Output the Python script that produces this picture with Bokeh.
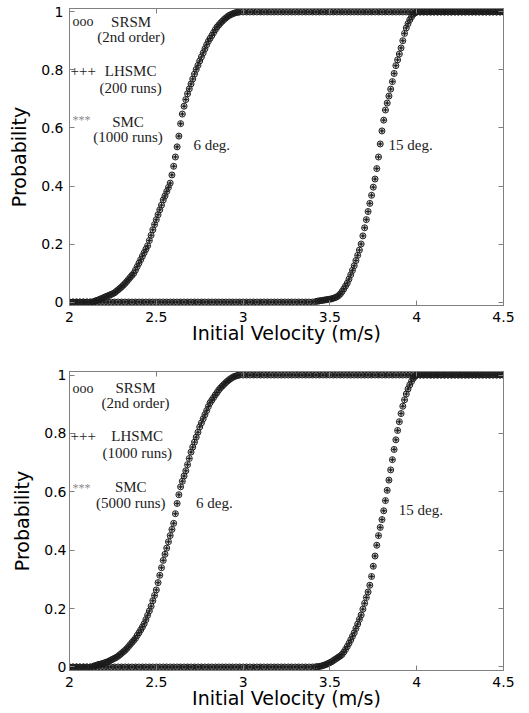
from bokeh.plotting import figure
from bokeh.layouts import column
from bokeh.models import (Label, FixedTicker, LinearAxis, Range1d, ColumnDataSource,
                          NumeralTickFormatter)
from bokeh.embed import file_html
from bokeh.resources import INLINE

# ---------------- data ----------------
X_TICKS = [2, 2.5, 3, 3.5, 4, 4.5]
Y_TICKS = [0, 0.2, 0.4, 0.6, 0.8, 1]

# 6 deg curve: flat part at 0, transition, flat part at 1
VEL_FLOOR_6 = [2.00, 2.02, 2.04, 2.06, 2.08, 2.10, 2.12]
VEL_6 = [2.14, 2.15, 2.16, 2.17, 2.18, 2.19, 2.20, 2.21, 2.22, 2.23,
         2.24, 2.25, 2.26, 2.27, 2.28, 2.29, 2.30, 2.31, 2.32, 2.33,
         2.34, 2.35, 2.36, 2.37, 2.38, 2.39, 2.40, 2.41, 2.42, 2.43,
         2.44, 2.45, 2.46, 2.47, 2.48, 2.49, 2.50, 2.51, 2.52, 2.53,
         2.54, 2.55, 2.56, 2.57, 2.58, 2.59, 2.60, 2.61, 2.62, 2.63,
         2.64, 2.65, 2.66, 2.67, 2.68, 2.69, 2.70, 2.71, 2.72, 2.73,
         2.74, 2.75, 2.76, 2.77, 2.78, 2.79, 2.80, 2.81, 2.82, 2.83,
         2.84, 2.85, 2.86, 2.87, 2.88, 2.89, 2.90, 2.91, 2.92, 2.93,
         2.94, 2.95, 2.96, 2.97, 2.98]
VEL_CEIL_6 = [3.00, 3.02, 3.04, 3.06, 3.08, 3.10, 3.12, 3.14, 3.16, 3.18,
              3.20, 3.22, 3.24, 3.26, 3.28, 3.30, 3.32, 3.34, 3.36, 3.38,
              3.40, 3.42, 3.44, 3.46, 3.48, 3.50, 3.52, 3.54, 3.56, 3.58,
              3.60, 3.62, 3.64, 3.66, 3.68, 3.70, 3.72, 3.74, 3.76, 3.78,
              3.80, 3.82, 3.84, 3.86, 3.88, 3.90, 3.92, 3.94, 3.96, 3.98,
              4.00, 4.02, 4.04, 4.06, 4.08, 4.10, 4.12, 4.14, 4.16, 4.18,
              4.20, 4.22, 4.24, 4.26, 4.28, 4.30, 4.32, 4.34, 4.36, 4.38,
              4.40, 4.42, 4.44, 4.46, 4.48, 4.50]

PROB_6_TOP = [0.002, 0.004, 0.006, 0.008, 0.011, 0.013, 0.016, 0.019, 0.021, 0.024,
              0.026, 0.029, 0.032, 0.037, 0.042, 0.047, 0.052, 0.058, 0.064, 0.071,
              0.078, 0.085, 0.092, 0.099, 0.110, 0.122, 0.134, 0.146, 0.158, 0.170,
              0.182, 0.194, 0.212, 0.230, 0.249, 0.267, 0.284, 0.301, 0.318, 0.334,
              0.352, 0.366, 0.381, 0.395, 0.410, 0.438, 0.468, 0.500, 0.535, 0.572,
              0.615, 0.648, 0.675, 0.698, 0.718, 0.735, 0.752, 0.769, 0.786, 0.802,
              0.816, 0.831, 0.845, 0.859, 0.873, 0.887, 0.899, 0.909, 0.919, 0.929,
              0.939, 0.948, 0.955, 0.962, 0.968, 0.974, 0.979, 0.984, 0.988, 0.991,
              0.994, 0.996, 0.998, 0.999, 1.000]
PROB_6_BOT = [0.003, 0.005, 0.007, 0.009, 0.010, 0.012, 0.014, 0.016, 0.018, 0.021,
              0.024, 0.027, 0.030, 0.033, 0.037, 0.042, 0.047, 0.052, 0.057, 0.063,
              0.070, 0.077, 0.084, 0.091, 0.098, 0.108, 0.117, 0.127, 0.137, 0.148,
              0.162, 0.177, 0.192, 0.208, 0.227, 0.245, 0.264, 0.289, 0.314, 0.340,
              0.365, 0.386, 0.407, 0.429, 0.450, 0.471, 0.492, 0.525, 0.560, 0.590,
              0.617, 0.636, 0.654, 0.672, 0.693, 0.714, 0.736, 0.753, 0.770, 0.787,
              0.804, 0.822, 0.836, 0.850, 0.864, 0.878, 0.892, 0.905, 0.914, 0.923,
              0.932, 0.940, 0.949, 0.956, 0.962, 0.968, 0.974, 0.979, 0.984, 0.988,
              0.992, 0.995, 0.997, 0.999, 1.000]

# 15 deg curve
VEL_FLOOR_15 = [2.00, 2.02, 2.04, 2.06, 2.08, 2.10, 2.12, 2.14, 2.16, 2.18,
                2.20, 2.22, 2.24, 2.26, 2.28, 2.30, 2.32, 2.34, 2.36, 2.38,
                2.40, 2.42, 2.44, 2.46, 2.48, 2.50, 2.52, 2.54, 2.56, 2.58,
                2.60, 2.62, 2.64, 2.66, 2.68, 2.70, 2.72, 2.74, 2.76, 2.78,
                2.80, 2.82, 2.84, 2.86, 2.88, 2.90, 2.92, 2.94, 2.96, 2.98,
                3.00, 3.02, 3.04, 3.06, 3.08, 3.10, 3.12, 3.14, 3.16, 3.18,
                3.20, 3.22, 3.24, 3.26, 3.28, 3.30, 3.32, 3.34, 3.36, 3.38,
                3.40]
VEL_15 = [3.42, 3.43, 3.44, 3.45, 3.46, 3.47, 3.48, 3.49, 3.50, 3.51,
          3.52, 3.53, 3.54, 3.55, 3.56, 3.57, 3.58, 3.59, 3.60, 3.61,
          3.62, 3.63, 3.64, 3.65, 3.66, 3.67, 3.68, 3.69, 3.70, 3.71,
          3.72, 3.73, 3.74, 3.75, 3.76, 3.77, 3.78, 3.79, 3.80, 3.81,
          3.82, 3.83, 3.84, 3.85, 3.86, 3.87, 3.88, 3.89, 3.90, 3.91,
          3.92, 3.93, 3.94, 3.95, 3.96, 3.97, 3.98, 3.99, 4.00]
VEL_CEIL_15 = [4.02, 4.04, 4.06, 4.08, 4.10, 4.12, 4.14, 4.16, 4.18, 4.20,
               4.22, 4.24, 4.26, 4.28, 4.30, 4.32, 4.34, 4.36, 4.38, 4.40,
               4.42, 4.44, 4.46, 4.48, 4.50]

PROB_15_TOP = [0.002, 0.003, 0.004, 0.005, 0.006, 0.007, 0.008, 0.009, 0.010, 0.011,
               0.013, 0.015, 0.018, 0.022, 0.028, 0.036, 0.045, 0.055, 0.065, 0.079,
               0.094, 0.109, 0.125, 0.143, 0.161, 0.179, 0.200, 0.228, 0.256, 0.284,
               0.312, 0.340, 0.368, 0.396, 0.424, 0.460, 0.500, 0.545, 0.590, 0.627,
               0.662, 0.686, 0.710, 0.734, 0.760, 0.788, 0.815, 0.835, 0.855, 0.876,
               0.901, 0.926, 0.945, 0.960, 0.973, 0.983, 0.992, 0.997, 1.000]
PROB_15_BOT = [0.001, 0.001, 0.002, 0.003, 0.005, 0.007, 0.009, 0.012, 0.015, 0.018,
               0.022, 0.026, 0.030, 0.034, 0.038, 0.043, 0.051, 0.060, 0.070, 0.081,
               0.093, 0.105, 0.117, 0.132, 0.147, 0.163, 0.178, 0.198, 0.218, 0.238,
               0.257, 0.280, 0.310, 0.345, 0.380, 0.417, 0.450, 0.478, 0.505, 0.535,
               0.570, 0.605, 0.640, 0.675, 0.710, 0.745, 0.778, 0.810, 0.840, 0.868,
               0.893, 0.915, 0.935, 0.952, 0.966, 0.978, 0.988, 0.995, 1.000]

LEGEND_TOP = ["SRSM", "(2nd order)", "LHSMC", "(200 runs)", "SMC", "(1000 runs)"]
LEGEND_BOT = ["SRSM", "(2nd order)", "LHSMC", "(1000 runs)", "SMC", "(5000 runs)"]
CURVE_LABELS = ["6 deg.", "15 deg."]

GRAY = "#808080"
INK = "#1c1c1c"
SANS = "DejaVu Sans"
SERIF = "Liberation Serif"


def curve(floor, mid, ceil, prob):
    return (floor + mid + ceil, [0.0] * len(floor) + prob + [1.0] * len(ceil))


def make_panel(height, left, right, top, bottom, curves, legend, pos, deg_pos, lab_stand):
    p = figure(width=529, height=height, x_range=Range1d(2, 4.5),
               y_range=Range1d(-0.012, 1.012), output_backend="svg",
               toolbar_location=None, min_border_left=left, min_border_right=right,
               min_border_top=top, min_border_bottom=bottom)
    p.xgrid.grid_line_color = None
    p.ygrid.grid_line_color = None
    p.outline_line_color = GRAY
    p.background_fill_color = "white"
    p.border_fill_color = "white"

    for vel, prob in curves:
        src = ColumnDataSource(dict(x=vel, y=prob))
        p.scatter("x", "y", source=src, marker="circle", size=6, fill_color=None,
                  line_color=INK, line_width=1)
        p.scatter("x", "y", source=src, marker="cross", size=5, line_color=INK,
                  line_width=0.9)
        p.scatter("x", "y", source=src, marker="asterisk", size=4, line_color=INK,
                  line_width=0.7)

    for ax, ticks in ((p.xaxis[0], X_TICKS), (p.yaxis[0], Y_TICKS)):
        ax.ticker = FixedTicker(ticks=ticks)
        ax.formatter = NumeralTickFormatter(format="0.[0]")
        ax.axis_line_color = GRAY
        ax.major_tick_line_color = GRAY
        ax.major_tick_in = 5
        ax.major_tick_out = 0
        ax.minor_tick_line_color = None
        ax.major_label_text_font = SANS
        ax.major_label_text_font_size = "14px"
        ax.major_label_text_color = "black"
        ax.axis_label_text_font = SANS
        ax.axis_label_text_font_size = "19px"
        ax.axis_label_text_font_style = "normal"
        ax.axis_label_text_color = "black"
    p.xaxis[0].axis_label = "Initial Velocity (m/s)"
    p.yaxis[0].axis_label = "Probability"
    p.xaxis[0].major_label_standoff = 6
    p.xaxis[0].axis_label_standoff = -3
    p.yaxis[0].major_label_standoff = lab_stand
    p.yaxis[0].axis_label_standoff = 8

    for loc, ticks in (("above", X_TICKS), ("right", Y_TICKS)):
        ax = LinearAxis(ticker=FixedTicker(ticks=ticks), major_label_text_font_size="1px",
                        major_label_text_color=None,
                        major_label_standoff=0, major_tick_in=5, major_tick_out=0,
                        axis_line_color=GRAY, major_tick_line_color=GRAY,
                        minor_tick_line_color=None)
        p.add_layout(ax, loc)

    # legend-like texts
    (yo_s, yo_l, yo_a, xs, ys, xl, yl, xm, ym) = pos
    p.add_layout(Label(x=2.017, y=yo_s, text="ooo", text_font=SERIF, text_font_size="14px",
                       text_baseline="middle", text_color=INK))
    p.add_layout(Label(x=2.006, y=yo_l, text="+++", text_font=SERIF, text_font_size="15px",
                       text_baseline="middle", text_color=INK))
    p.add_layout(Label(x=2.017, y=yo_a, text="***", text_font=SERIF, text_font_size="12px",
                       text_baseline="middle", text_color="#8a8a8a"))
    for (tx, ty), txt in zip(((xs, ys[0]), (xs, ys[1]), (xl, yl[0]), (xl, yl[1]),
                              (xm, ym[0]), (xm, ym[1])), legend):
        p.add_layout(Label(x=tx, y=ty, text=txt, text_font=SERIF, text_font_size="15px",
                           text_align="center", text_baseline="middle", text_color=INK))
    for (tx, ty), txt in zip(deg_pos, CURVE_LABELS):
        p.add_layout(Label(x=tx, y=ty, text=txt, text_font=SERIF, text_font_size="15px",
                           text_baseline="middle", text_color=INK))
    return p


top_curves = [curve(VEL_FLOOR_6, VEL_6, VEL_CEIL_6, PROB_6_TOP),
              curve(VEL_FLOOR_15, VEL_15, VEL_CEIL_15, PROB_15_TOP)]
bot_curves = [curve(VEL_FLOOR_6, VEL_6, VEL_CEIL_6, PROB_6_BOT),
              curve(VEL_FLOOR_15, VEL_15, VEL_CEIL_15, PROB_15_BOT)]

p1 = make_panel(360, 69, 26, 8, 55, top_curves, LEGEND_TOP,
                (0.967, 0.797, 0.627, 2.355, (0.967, 0.915), 2.352, (0.797, 0.738),
                 2.337, (0.622, 0.570)),
                ((2.714, 0.541), (3.838, 0.541)), 6)
p2 = make_panel(352, 65, 24, 11, 42, bot_curves, LEGEND_BOT,
                (0.954, 0.791, 0.614, 2.38, (0.955, 0.903), 2.39, (0.791, 0.732),
                 2.353, (0.617, 0.56)),
                ((2.729, 0.56), (3.897, 0.538)), 3)

layout = column(p1, p2, spacing=0)
open("out.html", "w").write(file_html(layout, INLINE))
